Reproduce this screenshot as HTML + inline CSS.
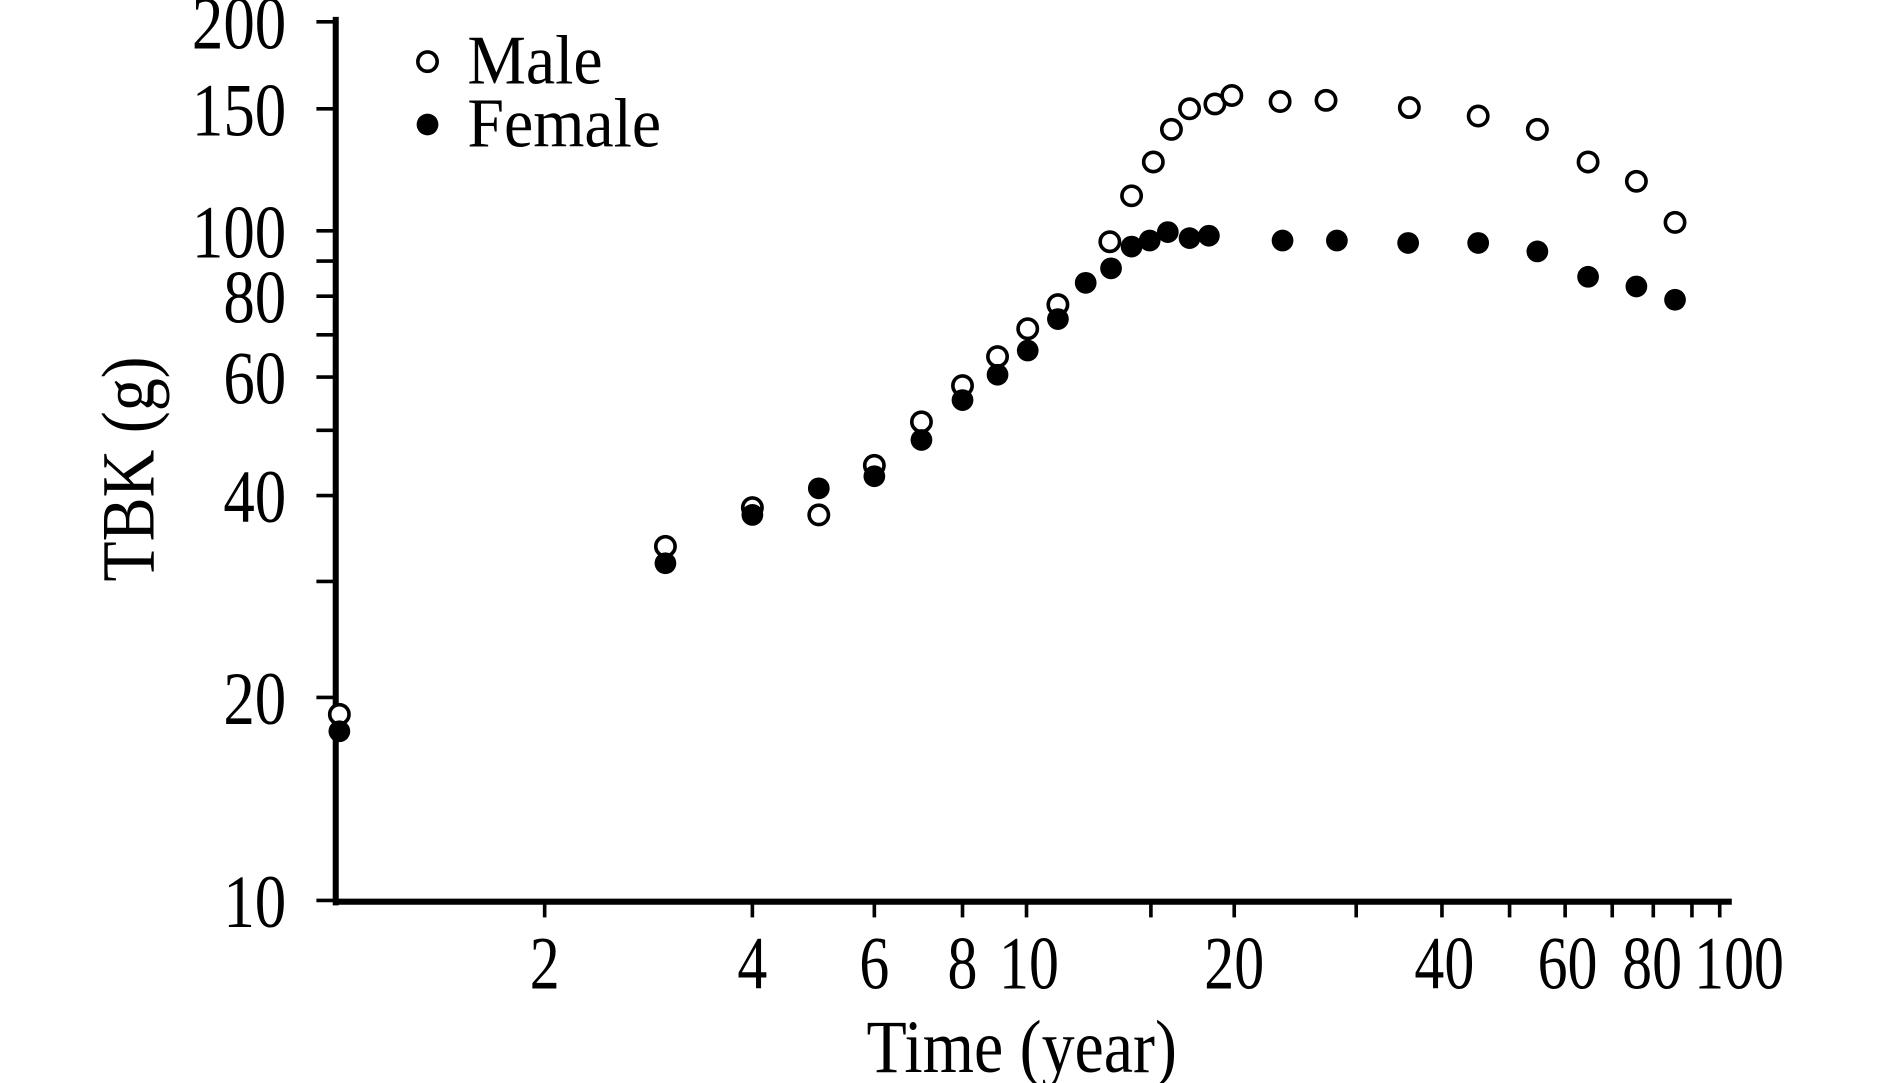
<!DOCTYPE html>
<html><head><style>html,body{margin:0;padding:0;background:#fff}svg{display:block}</style></head>
<body>
<svg width="1890" height="1083" viewBox="0 0 1565 896" preserveAspectRatio="none" xmlns="http://www.w3.org/2000/svg" font-family="Liberation Serif, serif" fill="#000">
<g stroke="#000" stroke-width="5">
<line x1="278" y1="14" x2="278" y2="749"/>
<line x1="276" y1="746" x2="1434" y2="746"/>
</g>
<g stroke="#000" stroke-width="3">
<line x1="262" y1="18" x2="278" y2="18"/>
<line x1="262" y1="90" x2="278" y2="90"/>
<line x1="262" y1="191" x2="278" y2="191"/>
<line x1="262" y1="216" x2="278" y2="216"/>
<line x1="262" y1="245" x2="278" y2="245"/>
<line x1="262" y1="277" x2="278" y2="277"/>
<line x1="262" y1="312" x2="278" y2="312"/>
<line x1="262" y1="356" x2="278" y2="356"/>
<line x1="262" y1="410" x2="278" y2="410"/>
<line x1="262" y1="481" x2="278" y2="481"/>
<line x1="262" y1="577" x2="278" y2="577"/>
<line x1="262" y1="745" x2="278" y2="745"/>
<line x1="451" y1="746" x2="451" y2="759"/>
<line x1="623" y1="746" x2="623" y2="759"/>
<line x1="724" y1="746" x2="724" y2="759"/>
<line x1="797" y1="746" x2="797" y2="759"/>
<line x1="850" y1="746" x2="850" y2="759"/>
<line x1="953" y1="746" x2="953" y2="759"/>
<line x1="1022" y1="746" x2="1022" y2="759"/>
<line x1="1123" y1="746" x2="1123" y2="759"/>
<line x1="1194" y1="746" x2="1194" y2="759"/>
<line x1="1250" y1="746" x2="1250" y2="759"/>
<line x1="1296" y1="746" x2="1296" y2="759"/>
<line x1="1335" y1="746" x2="1335" y2="759"/>
<line x1="1369" y1="746" x2="1369" y2="759"/>
<line x1="1401" y1="746" x2="1401" y2="759"/>
<line x1="1424" y1="746" x2="1424" y2="759"/>
</g>
<g font-size="62" text-anchor="end">
<text transform="translate(237,40) scale(0.84,1)">200</text>
<text transform="translate(237,112) scale(0.84,1)">150</text>
<text transform="translate(237,213) scale(0.84,1)">100</text>
<text transform="translate(237,267) scale(0.84,1)">80</text>
<text transform="translate(237,334) scale(0.84,1)">60</text>
<text transform="translate(237,432) scale(0.84,1)">40</text>
<text transform="translate(237,599) scale(0.84,1)">20</text>
<text transform="translate(237,767) scale(0.84,1)">10</text>
</g>
<g font-size="62" text-anchor="middle">
<text transform="translate(451,818) scale(0.8,1)">2</text>
<text transform="translate(623,818) scale(0.8,1)">4</text>
<text transform="translate(724,818) scale(0.8,1)">6</text>
<text transform="translate(797,818) scale(0.8,1)">8</text>
<text transform="translate(852,818) scale(0.8,1)">10</text>
<text transform="translate(1022,818) scale(0.8,1)">20</text>
<text transform="translate(1196,818) scale(0.8,1)">40</text>
<text transform="translate(1298,818) scale(0.8,1)">60</text>
<text transform="translate(1368,818) scale(0.8,1)">80</text>
<text transform="translate(1440,818) scale(0.8,1)">100</text>
<text transform="translate(846,887) scale(0.88,1)">Time (year)</text>
<text transform="translate(127,388) rotate(-90) scale(0.88,1)">TBK (g)</text>
</g>
<g font-size="58">
<text transform="translate(387,69) scale(0.94,1)">Male</text>
<text transform="translate(387,121) scale(0.94,1)">Female</text>
</g>
<circle cx="354" cy="51" r="8" fill="#fff" stroke="#000" stroke-width="3"/>
<circle cx="354" cy="103" r="9"/>
<g fill="#fff" stroke="#000" stroke-width="3">
<circle cx="281" cy="591" r="8"/><circle cx="551" cy="452" r="8"/><circle cx="623" cy="420" r="8"/><circle cx="678" cy="426" r="8"/><circle cx="724" cy="385" r="8"/><circle cx="763" cy="349" r="8"/><circle cx="797" cy="319" r="8"/><circle cx="826" cy="295" r="8"/><circle cx="851" cy="272" r="8"/><circle cx="876" cy="252" r="8"/><circle cx="919" cy="200" r="8"/><circle cx="937" cy="162" r="8"/><circle cx="955" cy="134" r="8"/><circle cx="970" cy="107" r="8"/><circle cx="985" cy="90" r="8"/><circle cx="1006" cy="86" r="8"/><circle cx="1020" cy="79" r="8"/><circle cx="1060" cy="84" r="8"/><circle cx="1098" cy="83" r="8"/><circle cx="1167" cy="89" r="8"/><circle cx="1224" cy="96" r="8"/><circle cx="1273" cy="107" r="8"/><circle cx="1315" cy="134" r="8"/><circle cx="1355" cy="150" r="8"/><circle cx="1387" cy="184" r="8"/>
</g>
<g>
<circle cx="281" cy="605" r="9"/><circle cx="551" cy="466" r="9"/><circle cx="623" cy="426" r="9"/><circle cx="678" cy="404" r="9"/><circle cx="724" cy="394" r="9"/><circle cx="763" cy="364" r="9"/><circle cx="797" cy="331" r="9"/><circle cx="826" cy="310" r="9"/><circle cx="851" cy="290" r="9"/><circle cx="876" cy="264" r="9"/><circle cx="899" cy="234" r="9"/><circle cx="920" cy="222" r="9"/><circle cx="937" cy="204" r="9"/><circle cx="952" cy="199" r="9"/><circle cx="967" cy="192" r="9"/><circle cx="985" cy="197" r="9"/><circle cx="1001" cy="195" r="9"/><circle cx="1062" cy="199" r="9"/><circle cx="1107" cy="199" r="9"/><circle cx="1166" cy="201" r="9"/><circle cx="1224" cy="201" r="9"/><circle cx="1273" cy="208" r="9"/><circle cx="1315" cy="229" r="9"/><circle cx="1355" cy="237" r="9"/><circle cx="1387" cy="248" r="9"/>
</g>
</svg>
</body></html>
